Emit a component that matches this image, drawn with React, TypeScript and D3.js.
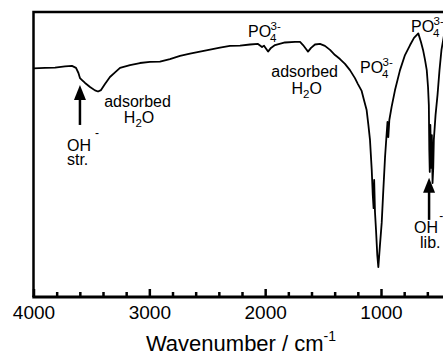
import React, { useRef, useEffect } from 'react';
import * as d3 from 'd3';

// FT-IR spectrum (arbitrary transmittance units, 0-100)
const wavenumbers = [
  4000, 3901, 3814, 3728, 3668, 3633, 3612, 3599, 3581, 3555, 3512, 3469, 3443, 3417, 3383, 3340,
  3296, 3253, 3167, 3081, 2994, 2908, 2822, 2735, 2649, 2563, 2476, 2390, 2304, 2217, 2131, 2062,
  2027, 2010, 1975, 1950, 1915, 1829, 1742, 1699, 1673, 1647, 1630, 1604, 1570, 1527, 1484, 1440,
  1397, 1354, 1311, 1268, 1225, 1199, 1167, 1147, 1124, 1109, 1095, 1080, 1071, 1064, 1059, 1052,
  1043, 1032, 1023, 1009, 994, 980, 965, 955, 944, 937, 928, 908, 879, 836, 793, 749,
  715, 678, 655, 637, 620, 605, 594, 587, 583, 579, 574, 567, 561, 555, 549, 544,
  529, 512, 495, 478, 456, 439,
];
const transmittance = [
  80.2, 80.4, 80.5, 80.9, 81.1, 80.4, 78.6, 76.8, 76.1, 75.1, 73.7, 72.5, 72.1, 72.6, 74.7, 77.2,
  78.8, 80.4, 81.4, 82.1, 82.5, 82.6, 83.5, 84.6, 85.4, 86.1, 86.8, 87.5, 88.1, 88.2, 88.6, 88.8,
  87.7, 88.2, 86.1, 87.4, 88.4, 89.3, 89.5, 89.5, 88.4, 87.0, 86.1, 87.4, 88.6, 88.8, 88.1, 86.7,
  84.9, 83.5, 81.8, 79.6, 76.8, 74.7, 72.3, 69.1, 65.6, 60.4, 55.1, 44.6, 35.8, 31.2, 41.1, 29.8,
  23.5, 14.7, 10.5, 18.2, 26.0, 37.5, 49.1, 55.1, 61.4, 56.1, 62.1, 66.8, 72.6, 79.6, 84.9, 88.4,
  90.9, 92.5, 89.5, 86.7, 83.2, 79.6, 73.7, 67.4, 51.6, 43.9, 60.4, 45.3, 56.8, 40.0, 45.3, 55.1,
  63.9, 70.9, 79.6, 86.7, 91.9, 94.4,
];

const majorTicks = [4000, 3000, 2000, 1000];
const minorTicks = [3800, 3600, 3400, 3200, 2800, 2600, 2400, 2200, 1800, 1600, 1400, 1200, 800, 600];

const FONT = '"Liberation Sans", Arial, Helvetica, sans-serif';

const SpectrumChart: React.FC<{ width?: number; height?: number }> = ({ width = 443, height = 355 }) => {
  const svgRef = useRef<SVGSVGElement | null>(null);

  useEffect(() => {
    const svg = d3.select(svgRef.current);
    svg.selectAll('*').remove();

    const left = 33.5;
    const top = 12;
    const bottom = 297;

    const x = d3.scaleLinear().domain([4000, 400]).range([left, 450.5]);
    const y = d3.scaleLinear().domain([0, 100]).range([bottom, top]);

    const g = svg.append('g').attr('font-family', FONT).attr('fill', '#000');

    // spectrum
    const pts = wavenumbers.map((w, i) => [w, transmittance[i]] as [number, number]);
    const line = d3.line<[number, number]>()
      .x(d => x(d[0]))
      .y(d => y(d[1]));
    g.append('path')
      .datum(pts)
      .attr('fill', 'none')
      .attr('stroke', '#000')
      .attr('stroke-width', 1.8)
      .attr('stroke-linejoin', 'round')
      .attr('d', line);

    // minor ticks
    const minor = g.append('g')
      .attr('transform', `translate(0,${bottom})`)
      .call(d3.axisBottom(x).tickValues(minorTicks).tickSize(-5).tickFormat(() => ''));
    minor.select('.domain').remove();
    minor.selectAll('line').attr('stroke-width', 2.5);

    // major ticks + labels
    const major = g.append('g')
      .attr('transform', `translate(0,${bottom})`)
      .call(d3.axisBottom(x).tickValues(majorTicks).tickSize(-8).tickPadding(9).tickFormat(d3.format('d')));
    major.select('.domain').remove();
    major.attr('font-family', FONT).attr('font-size', 19);
    major.selectAll('line').attr('stroke-width', 2.5);
    major.selectAll('text').attr('fill', '#000');

    // frame
    g.append('path')
      .attr('d', `M${left},${bottom}V${top}H${x(400)}`)
      .attr('fill', 'none')
      .attr('stroke', '#000')
      .attr('stroke-width', 2.5);
    g.append('line')
      .attr('x1', left - 1.2).attr('x2', x(400))
      .attr('y1', bottom).attr('y2', bottom)
      .attr('stroke', '#000')
      .attr('stroke-width', 3);

    // axis title
    const title = g.append('text')
      .attr('x', 241).attr('y', 351)
      .attr('text-anchor', 'middle')
      .attr('font-size', 22);
    title.append('tspan').text('Wavenumber / cm');
    title.append('tspan').attr('font-size', 14).attr('dy', -10).text('-1');

    // annotation helpers
    const txt = (wn: number, v: number, s: string, anchor = 'start', size = 16) =>
      g.append('text').attr('x', x(wn)).attr('y', y(v))
        .attr('text-anchor', anchor).attr('font-size', size).text(s);

    const water = (wn: number, v: number) => {
      const t = g.append('text').attr('x', x(wn)).attr('y', y(v))
        .attr('text-anchor', 'middle').attr('font-size', 16);
      t.append('tspan').text('H');
      t.append('tspan').attr('font-size', 11.5).attr('dy', 4).text('2');
      t.append('tspan').attr('dy', -4).text('O');
    };

    const phosphate = (wn: number, v: number) => {
      const px = x(wn);
      const py = y(v);
      g.append('text').attr('x', px).attr('y', py).attr('font-size', 16).text('PO');
      g.append('text').attr('x', px + 22).attr('y', py + 5).attr('font-size', 11.5).text('4');
      g.append('text').attr('x', px + 22.5).attr('y', py - 7).attr('font-size', 11.5).text('3-');
    };

    const arrow = (wn: number, v: number, len: number) => {
      const px = x(wn);
      const py = y(v);
      g.append('line')
        .attr('x1', px).attr('x2', px)
        .attr('y1', py + 12).attr('y2', py + len)
        .attr('stroke', '#000').attr('stroke-width', 2.5);
      g.append('path')
        .attr('d', `M${px},${py}L${px - 6},${py + 15}L${px + 6},${py + 15}Z`)
        .attr('fill', '#000');
    };

    // left OH- stretching
    arrow(3599, 74.4, 40);
    txt(3711, 51.2, 'OH');
    txt(3469, 56.0, '-', 'start', 12);
    txt(3711, 46.2, 'str.');

    // adsorbed water (broad)
    txt(3102, 66.8, 'adsorbed', 'middle');
    water(3089, 61.2);

    // adsorbed water (bending)
    txt(1659, 77.3, 'adsorbed', 'middle');
    water(1641, 71.1);

    // phosphate labels
    phosphate(2148, 91.3);
    phosphate(1181, 78.5);
    phosphate(741, 93.1);

    // OH- libration
    arrow(585, 41.8, 42);
    txt(715, 22.4, 'OH');
    txt(497, 27.0, '-', 'start', 12);
    txt(663, 17.1, 'lib.');
  }, [width, height]);

  return (
    <svg
      ref={svgRef}
      width={width}
      height={height}
      style={{ position: 'absolute', left: 0, top: 0, background: '#fff' }}
    />
  );
};

export default function App() {
  return <SpectrumChart />;
}
